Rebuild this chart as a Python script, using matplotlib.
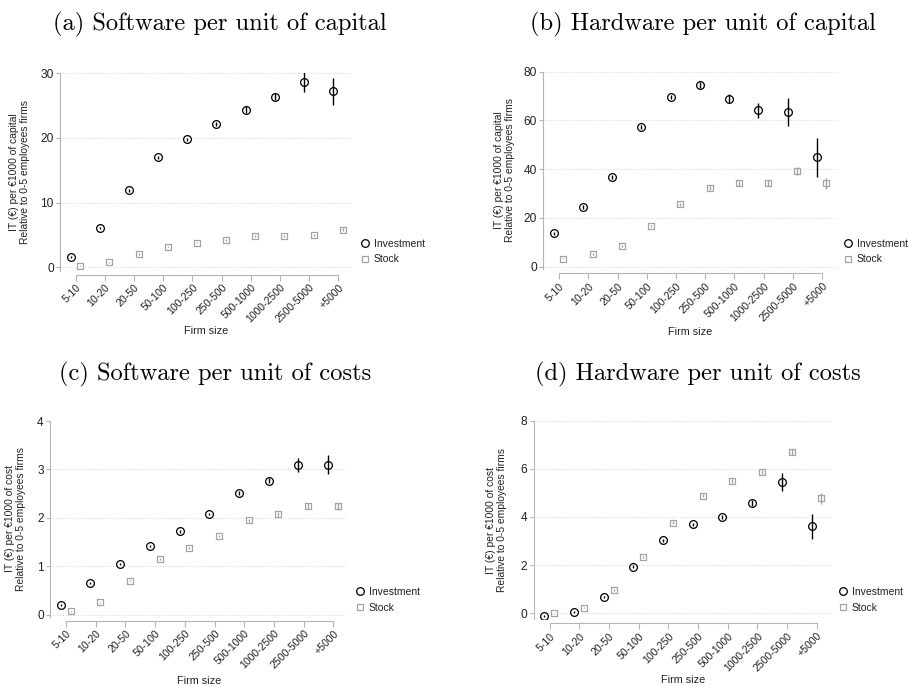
import numpy as np
import matplotlib
matplotlib.use("Agg")
import matplotlib.pyplot as plt
from matplotlib.lines import Line2D

# Categorías de tamaño de empresa
sizes = ['5-10', '10-20', '20-50', '50-100', '100-250', '250-500',
         '500-1000', '1000-2500', '2500-5000', '+5000']

# (a) Software por unidad de capital
a_inv = [1.6, 6.1, 11.9, 17.0, 19.8, 22.2, 24.4, 26.4, 28.7, 27.2]
a_inv_err = [0.15, 0.2, 0.2, 0.2, 0.25, 0.3, 0.5, 0.6, 1.55, 2.1]
a_stk = [0.25, 0.75, 2.05, 3.2, 3.8, 4.2, 4.8, 4.8, 5.0, 5.8]
a_stk_err = [0.1, 0.1, 0.1, 0.1, 0.1, 0.15, 0.15, 0.15, 0.2, 0.25]

# (b) Hardware por unidad de capital
b_inv = [13.6, 24.4, 36.9, 57.4, 69.6, 74.5, 68.9, 64.2, 63.4, 44.8]
b_inv_err = [0.6, 0.7, 0.8, 0.8, 0.9, 1.2, 1.8, 3.1, 5.8, 7.9]
b_stk = [3.3, 5.0, 8.3, 16.6, 25.6, 32.4, 34.2, 34.2, 39.1, 34.2]
b_stk_err = [0.3, 0.4, 0.4, 0.5, 0.6, 0.8, 1.0, 1.2, 1.6, 2.2]

# (c) Software por unidad de costes
c_inv = [0.20, 0.66, 1.05, 1.42, 1.72, 2.08, 2.52, 2.77, 3.09, 3.10]
c_inv_err = [0.02, 0.02, 0.02, 0.02, 0.03, 0.03, 0.04, 0.06, 0.14, 0.19]
c_stk = [0.07, 0.26, 0.70, 1.15, 1.37, 1.62, 1.95, 2.08, 2.24, 2.24]
c_stk_err = [0.01, 0.01, 0.01, 0.02, 0.02, 0.02, 0.03, 0.04, 0.06, 0.07]

# (d) Hardware por unidad de costes
d_inv = [-0.11, 0.04, 0.67, 1.94, 3.04, 3.70, 3.99, 4.59, 5.45, 3.61]
d_inv_err = [0.04, 0.04, 0.05, 0.05, 0.06, 0.07, 0.09, 0.13, 0.38, 0.53]
d_stk = [0.0, 0.24, 0.97, 2.34, 3.77, 4.88, 5.49, 5.88, 6.70, 4.77]
d_stk_err = [0.02, 0.03, 0.03, 0.04, 0.05, 0.06, 0.08, 0.09, 0.12, 0.22]

W, H = 909, 686
fig = plt.figure(figsize=(W / 100, H / 100), dpi=100, facecolor='white')

plt.rcParams['font.family'] = ['Liberation Sans', 'DejaVu Sans']

GRAY = '#a3a3a3'
SPINE = '#b4b4b4'
TXT = '#222222'
x = np.arange(len(sizes))


def px_rect(left, right, top, bottom):
    return [left / W, 1 - bottom / H, (right - left) / W, (bottom - top) / H]


def panel(rect, title, title_xy, inv, inv_err, stk, stk_err, ylim, yticks,
          ylab, lab_dx, xlab_dy, leg_xy, hide_top_grid=False):
    ax = fig.add_axes(px_rect(*rect))
    w_px = rect[1] - rect[0]
    h_px = rect[3] - rect[2]

    # ejes primero: set_position reinicia los ticks
    for s in ['top', 'right']:
        ax.spines[s].set_visible(False)
    ax.spines['bottom'].set_position(('outward', 3))
    ax.spines['left'].set_color(SPINE)
    ax.spines['bottom'].set_color(SPINE)
    ax.spines['left'].set_linewidth(0.8)
    ax.spines['bottom'].set_linewidth(0.8)

    ax.errorbar(x + 0.15, stk, yerr=stk_err, fmt='none', ecolor=GRAY,
                elinewidth=1.0, capsize=0, zorder=2)
    ax.scatter(x + 0.15, stk, marker='s', s=25, facecolors='white',
               edgecolors=GRAY, linewidths=0.9, zorder=1)
    ax.scatter(x - 0.18, inv, marker='o', s=31, facecolors='white',
               edgecolors='black', linewidths=0.9, zorder=3)
    ax.errorbar(x - 0.18, inv, yerr=inv_err, fmt='none', ecolor='black',
                elinewidth=1.0, capsize=0, zorder=4)

    ax.tick_params(axis='both', colors=SPINE, labelcolor=TXT, width=0.8)
    ax.tick_params(axis='y', length=3, pad=1.5, labelsize=8.6)
    ax.tick_params(axis='x', length=4, pad=1.5, labelsize=7.6)

    ax.set_xlim(-0.54, 9.5)
    ax.set_ylim(*ylim)
    ax.set_yticks(yticks)
    ax.set_xticks(x)
    ax.set_xticklabels(sizes, rotation=45, ha='right', rotation_mode='anchor')

    ax.spines['left'].set_bounds(ylim[0], yticks[-1])
    ax.spines['bottom'].set_bounds(0, 9)

    ax.yaxis.grid(True, linestyle=(0, (1, 2)), color='#c8c8c8', linewidth=0.6)
    ax.set_axisbelow(True)
    if hide_top_grid:
        ax.get_ygridlines()[-1].set_visible(False)

    ax.set_ylabel(ylab + '\nRelative to 0-5 employees firms', fontsize=7.4,
                  color=TXT, linespacing=1.1)
    ax.yaxis.set_label_coords(lab_dx / w_px, 0.5)
    ax.set_xlabel('Firm size', fontsize=7.8, color=TXT)
    ax.xaxis.set_label_coords(0.5, -xlab_dy / h_px)

    handles = [
        Line2D([], [], marker='o', ls='none', mfc='white', mec='black',
               mew=0.9, ms=5.5),
        Line2D([], [], marker='s', ls='none', mfc='white', mec=GRAY,
               mew=0.9, ms=4.9),
    ]
    leg = ax.legend(handles, ['Investment', 'Stock'], loc='center left',
                    bbox_to_anchor=(leg_xy[0] / W, 1 - leg_xy[1] / H),
                    bbox_transform=fig.transFigure, frameon=False,
                    fontsize=7.5, handlelength=0.9, handletextpad=0.4,
                    borderpad=0, borderaxespad=0, labelspacing=0.55)
    for t in leg.get_texts():
        t.set_color(TXT)

    fig.text(title_xy[0] / W, 1 - title_xy[1] / H, title, family='cmr10',
             fontsize=17.6, ha='center', va='baseline', color='black')
    return ax


panel((60, 353, 73.3, 270.5), '(a) Software per unit of capital', (220, 30.7),
      a_inv, a_inv_err, a_stk, a_stk_err, (-0.5, 30), [0, 10, 20, 30],
      'IT (€) per €1000 of capital', -30, 56, (360, 251.5))
panel((543.3, 836.7, 71.7, 269.3), '(b) Hardware per unit of capital', (703, 30.7),
      b_inv, b_inv_err, b_stk, b_stk_err, (-1.1, 80), [0, 20, 40, 60, 80],
      'IT (€) per €1000 of capital', -28, 58, (843, 251.5))
panel((50, 348.3, 421, 616.7), '(c) Software per unit of costs', (215, 380),
      c_inv, c_inv_err, c_stk, c_stk_err, (-0.04, 4), [0, 1, 2, 3, 4],
      'IT (€) per €1000 of cost', -24, 59, (355, 600), hide_top_grid=True)
panel((533.7, 831.7, 420.7, 619.3), '(d) Hardware per unit of costs', (698, 380),
      d_inv, d_inv_err, d_stk, d_stk_err, (-0.25, 8), [0, 2, 4, 6, 8],
      'IT (€) per €1000 of cost', -27, 56, (838, 600))

fig.savefig('out.png', dpi=100, facecolor='white')
